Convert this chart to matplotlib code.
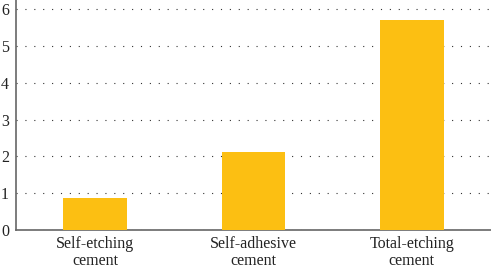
import matplotlib
matplotlib.use("Agg")
import matplotlib.pyplot as plt

categories = ["Self-etching\ncement", "Self-adhesive\ncement", "Total-etching\ncement"]
values = [0.88, 2.12, 5.70]
yticks = [0, 1, 2, 3, 4, 5, 6]

plt.rcParams['font.family'] = ['Liberation Serif', 'DejaVu Serif']

fig = plt.figure(figsize=(4.91, 2.70), dpi=100)
ax = fig.add_axes([16/491, 40/270, 1 - 16/491, 230/270])
x = range(len(categories))
ax.bar(x, values, width=0.4, color='#FCBF12', zorder=3)
ax.set_xlim(-0.5, 2.5)
ax.set_ylim(0, 6.25)
ax.set_yticks(yticks)
ax.set_xticks(list(x))
ax.set_xticklabels(categories, fontsize=11.5, color='#222222', linespacing=1.15)
ax.tick_params(axis='y', labelsize=11.5, colors='#222222', length=0, pad=5)
ax.tick_params(axis='x', length=0, pad=4)
ax.yaxis.grid(True, linestyle=(0, (1, 7)), color='#333333', linewidth=0.8, zorder=0)
for s in ['top', 'right']:
    ax.spines[s].set_visible(False)
for s in ['left', 'bottom']:
    ax.spines[s].set_color('#666666')
    ax.spines[s].set_linewidth(1.2)
fig.savefig('out.png', dpi=100)
